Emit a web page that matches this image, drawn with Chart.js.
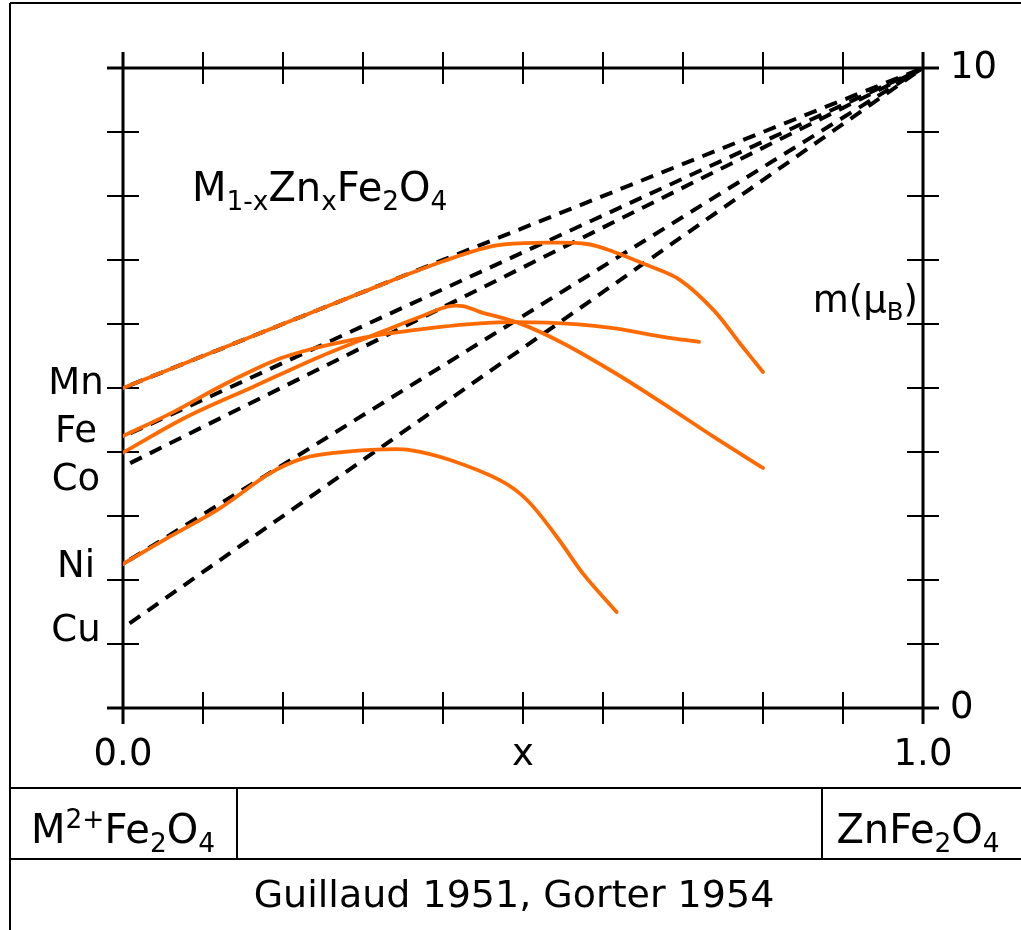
<!DOCTYPE html>
<html>
<head>
<meta charset="utf-8">
<script src="https://cdn.jsdelivr.net/npm/chart.js@4.4.1/dist/chart.umd.min.js"></script>
<style>
  html, body { margin: 0; padding: 0; background: #fff; }
  #wrap { position: relative; width: 1021px; height: 930px; }
</style>
</head>
<body>
<div id="wrap"><canvas id="c"></canvas></div>
<script>
// ---------------- data ----------------
const elements = ['Mn', 'Fe', 'Co', 'Ni', 'Cu'];
// moment of pure M2+Fe2O4 (x = 0) for the dashed Néel lines
const momentAtX0 = [5.0, 4.24, 3.77, 2.25, 1.25];
// all dashed lines converge to this moment at x = 1
const momentAtX1 = 10;
// where each element name is written on the left (in μB)
const elementLabelY = [5.05, 4.30, 3.55, 2.20, 1.20];

// measured curves (orange)
const mnX = [0, 0.10, 0.20, 0.30, 0.40, 0.467, 0.53, 0.58, 0.613, 0.655, 0.696, 0.738, 0.771, 0.80];
const mnY = [5.0, 5.5, 6.0, 6.5, 6.98, 7.23, 7.27, 7.25, 7.13, 6.92, 6.69, 6.22, 5.70, 5.25];

const feX = [0, 0.059, 0.121, 0.163, 0.196, 0.23, 0.267, 0.33, 0.446, 0.53, 0.61, 0.675, 0.72];
const feY = [4.25, 4.60, 5.02, 5.28, 5.46, 5.59, 5.70, 5.85, 6.01, 6.02, 5.94, 5.80, 5.72];

const coX = [0, 0.08, 0.163, 0.246, 0.33, 0.371, 0.405, 0.425, 0.446, 0.496, 0.55, 0.613, 0.675, 0.738, 0.80];
const coY = [3.99, 4.55, 5.02, 5.49, 5.91, 6.11, 6.27, 6.28, 6.19, 6.01, 5.70, 5.25, 4.76, 4.24, 3.75];

const niX = [0, 0.059, 0.121, 0.184, 0.225, 0.267, 0.325, 0.359, 0.409, 0.471, 0.505, 0.542, 0.575, 0.617];
const niY = [2.25, 2.68, 3.12, 3.67, 3.90, 3.99, 4.04, 4.03, 3.875, 3.56, 3.25, 2.68, 2.10, 1.50];

// tick labels
const xTickValues = [0, 0.5, 1];
const xTickText = ['0.0', 'x', '1.0'];
const yTickValues = [0, 10];
const yTickText = ['0', '10'];

// ---------------- styling ----------------
const FONT = '"DejaVu Sans", "Liberation Sans", sans-serif';
const ORANGE = '#ff6a00';

function pts(xs, ys) { return xs.map((x, i) => ({ x: x, y: ys[i] })); }
function lookup(values, texts, v) {
  for (let i = 0; i < values.length; i++) if (Math.abs(values[i] - v) < 1e-6) return texts[i];
  return '';
}

const datasets = [];
momentAtX0.forEach((m, i) => {
  datasets.push({
    label: elements[i] + ' (Néel)',
    data: [{ x: 0, y: m }, { x: 1, y: momentAtX1 }],
    borderColor: '#000',
    borderWidth: 4,
    borderDash: [13, 9],
    borderDashOffset: -8,
    pointRadius: 0,
    tension: 0,
    order: 2
  });
});
[[mnX, mnY, 'Mn'], [feX, feY, 'Fe'], [coX, coY, 'Co'], [niX, niY, 'Ni']].forEach(([xs, ys, n]) => {
  datasets.push({
    label: n,
    data: pts(xs, ys),
    borderColor: ORANGE,
    borderWidth: 3.8,
    borderCapStyle: 'round',
    borderJoinStyle: 'round',
    pointRadius: 0,
    tension: 0.35,
    order: 1
  });
});

// rich text helper: parts = [[text, 'n'|'sub'|'sup'], ...]
function richWidth(ctx, parts, size) {
  let w = 0;
  parts.forEach(([t, k]) => {
    const s = k === 'n' ? size : size * 0.66;
    ctx.font = s + 'px ' + FONT;
    w += ctx.measureText(t).width;
  });
  return w;
}
function drawRich(ctx, x, y, parts, size, align) {
  let w = richWidth(ctx, parts, size);
  let cx = align === 'right' ? x - w : align === 'center' ? x - w / 2 : x;
  ctx.textBaseline = 'alphabetic';
  ctx.textAlign = 'left';
  parts.forEach(([t, k]) => {
    const s = k === 'n' ? size : size * 0.66;
    ctx.font = s + 'px ' + FONT;
    let dy = 0;
    if (k === 'sub') dy = size * 0.22;
    if (k === 'sup') dy = -size * 0.38;
    ctx.fillText(t, cx, y + dy);
    cx += ctx.measureText(t).width;
  });
}

const framePlugin = {
  id: 'frame',
  beforeDatasetsDraw(chart) {
    const ctx = chart.ctx;
    const x = chart.scales.x, y = chart.scales.y;
    const L = x.getPixelForValue(0), R = x.getPixelForValue(1);
    const B = y.getPixelForValue(0), T = y.getPixelForValue(10);
    const TL = 16;
    ctx.save();
    ctx.strokeStyle = '#000';
    ctx.lineCap = 'butt';
    // axis lines (extended past the corners)
    ctx.lineWidth = 3;
    ctx.beginPath();
    ctx.moveTo(L - TL, B); ctx.lineTo(R + TL, B);
    ctx.moveTo(L - TL, T); ctx.lineTo(R + TL, T);
    ctx.moveTo(L, B + TL); ctx.lineTo(L, T - TL);
    ctx.moveTo(R, B + TL); ctx.lineTo(R, T - TL);
    ctx.stroke();
    // tick marks crossing the axes
    ctx.lineWidth = 2;
    ctx.beginPath();
    x.ticks.forEach(t => {
      const px = x.getPixelForValue(t.value);
      ctx.moveTo(px, B - TL); ctx.lineTo(px, B + TL);
      ctx.moveTo(px, T - TL); ctx.lineTo(px, T + TL);
    });
    y.ticks.forEach(t => {
      const py = y.getPixelForValue(t.value);
      ctx.moveTo(L - TL, py); ctx.lineTo(L + TL, py);
      ctx.moveTo(R - TL, py); ctx.lineTo(R + TL, py);
    });
    ctx.stroke();
    ctx.restore();
  },
  afterDraw(chart) {
    const ctx = chart.ctx;
    const y = chart.scales.y;
    ctx.save();
    ctx.fillStyle = '#000';
    // element names on the left
    ctx.font = '37px ' + FONT;
    ctx.textAlign = 'center';
    ctx.textBaseline = 'middle';
    elements.forEach((e, i) => {
      ctx.fillText(e, 76, y.getPixelForValue(elementLabelY[i]));
    });
    // formula title
    drawRich(ctx, 192, 201, [['M', 'n'], ['1-x', 'sub'], ['Zn', 'n'], ['x', 'sub'], ['Fe', 'n'], ['2', 'sub'], ['O', 'n'], ['4', 'sub']], 40, 'left');
    // axis title on the right
    drawRich(ctx, 918, 312, [['m(\u03bc', 'n'], ['B', 'sub'], [')', 'n']], 37, 'right');

    // outer frame and boxes
    ctx.strokeStyle = '#000';
    ctx.lineWidth = 2;
    ctx.beginPath();
    ctx.moveTo(10, 3); ctx.lineTo(1021, 3);
    ctx.moveTo(10, 3); ctx.lineTo(10, 930);
    ctx.moveTo(10, 788); ctx.lineTo(1021, 788);
    ctx.moveTo(10, 859); ctx.lineTo(1021, 859);
    ctx.moveTo(237, 788); ctx.lineTo(237, 859);
    ctx.moveTo(822, 788); ctx.lineTo(822, 859);
    ctx.stroke();
    drawRich(ctx, 123, 843, [['M', 'n'], ['2+', 'sup'], ['Fe', 'n'], ['2', 'sub'], ['O', 'n'], ['4', 'sub']], 40, 'center');
    drawRich(ctx, 918, 843, [['ZnFe', 'n'], ['2', 'sub'], ['O', 'n'], ['4', 'sub']], 40, 'center');
    ctx.font = '38px ' + FONT;
    ctx.textAlign = 'center';
    ctx.textBaseline = 'alphabetic';
    ctx.fillText('Guillaud 1951, Gorter 1954', 514, 907);
    ctx.restore();
  }
};

new Chart(document.getElementById('c'), {
  type: 'line',
  data: { datasets: datasets },
  options: {
    responsive: true,
    maintainAspectRatio: false,
    animation: false,
    layout: { padding: 0 },
    plugins: { legend: { display: false }, tooltip: { enabled: false } },
    scales: {
      x: {
        type: 'linear', position: 'bottom', min: 0, max: 1,
        grid: { display: false, drawTicks: false },
        border: { display: false },
        ticks: {
          stepSize: 0.1, autoSkip: false, maxRotation: 0, padding: 25,
          color: '#000', font: { family: FONT, size: 37 },
          callback: v => lookup(xTickValues, xTickText, v)
        },
        afterFit: s => { s.height = 222; }
      },
      x2: {
        type: 'linear', position: 'top', min: 0, max: 1,
        grid: { display: false, drawTicks: false },
        border: { display: false },
        ticks: { display: false, stepSize: 0.1 },
        afterFit: s => { s.height = 68; }
      },
      y: {
        type: 'linear', position: 'left', min: 0, max: 10,
        grid: { display: false, drawTicks: false },
        border: { display: false },
        ticks: { display: false, stepSize: 1 },
        afterFit: s => { s.width = 123; }
      },
      y2: {
        type: 'linear', position: 'right', min: 0, max: 10,
        grid: { display: false, drawTicks: false },
        border: { display: false },
        ticks: {
          stepSize: 1, autoSkip: false, padding: 27,
          color: '#000', font: { family: FONT, size: 37 },
          callback: v => lookup(yTickValues, yTickText, v)
        },
        afterFit: s => { s.width = 98; }
      }
    }
  },
  plugins: [framePlugin]
});
</script>
</body>
</html>
